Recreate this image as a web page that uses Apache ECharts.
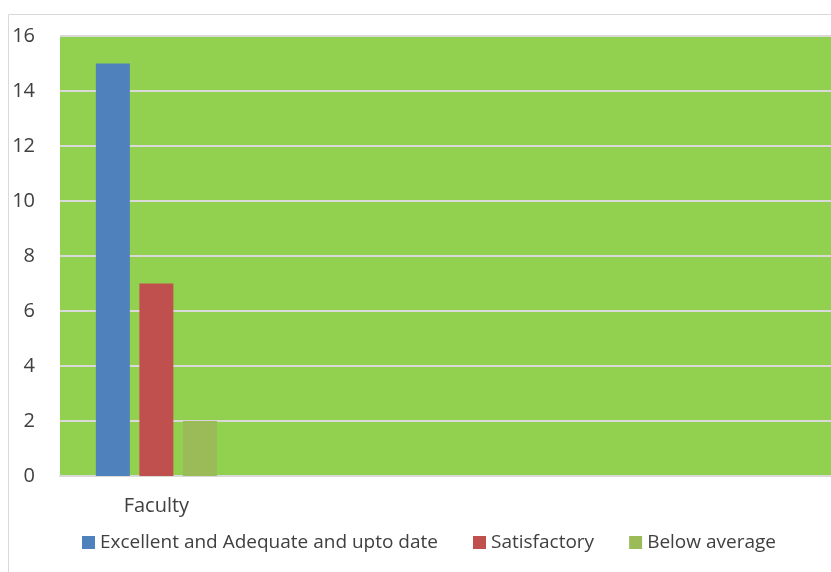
<!DOCTYPE html>
<html><head><meta charset="utf-8">
<script src="https://cdn.jsdelivr.net/npm/echarts@6/dist/echarts.min.js"></script>
<style>html,body{margin:0;padding:0;background:#fff}#c{width:831px;height:572px}</style>
</head><body><div id="c"></div>
<script>
var categories = ['Faculty', '', '', ''];
var seriesNames = ['Excellent and Adequate and upto date', 'Satisfactory', 'Below average'];
var excellent = [15, null, null, null];
var satisfactory = [7, null, null, null];
var belowAverage = [2, null, null, null];
var yTicks = [0, 2, 4, 6, 8, 10, 12, 14, 16];

var colors = ['#4F81BD', '#C0504D', '#9BBB59'];
var font = 'Open Sans';
var chart = echarts.init(document.getElementById('c'));
chart.setOption({
  animation: false,
  textStyle: {fontFamily: font},
  graphic: [{type: 'rect', shape: {x: 8.5, y: 14.5, width: 900, height: 700}, style: {fill: 'none', stroke: '#D9D9D9', lineWidth: 1}, silent: true}],
  grid: {left: 60, top: 36, width: 780, height: 440, backgroundColor: '#92D050', show: true, borderWidth: 0},
  legend: {
    data: seriesNames, bottom: 15, left: 77, itemWidth: 13, itemHeight: 13, itemGap: 35,
    icon: 'rect', textStyle: {fontSize: 19, color: '#404040', fontFamily: font}
  },
  xAxis: {
    type: 'category', data: categories,
    axisLine: {lineStyle: {color: '#D9D9D9', width: 2}},
    axisTick: {show: false},
    axisLabel: {fontSize: 20, color: '#404040', margin: 20, interval: 0}
  },
  yAxis: {
    type: 'value', min: yTicks[0], max: yTicks[yTicks.length - 1], interval: 2,
    axisLine: {show: false}, axisTick: {show: false},
    axisLabel: {fontSize: 20, color: '#404040', margin: 25},
    splitLine: {lineStyle: {color: '#D9D9D9', width: 2}}
  },
  series: [
    {name: seriesNames[0], type: 'bar', data: excellent, barWidth: 34, barGap: '28%', itemStyle: {color: colors[0]}},
    {name: seriesNames[1], type: 'bar', data: satisfactory, barWidth: 34, barGap: '28%', itemStyle: {color: colors[1]}},
    {name: seriesNames[2], type: 'bar', data: belowAverage, barWidth: 34, barGap: '28%', itemStyle: {color: colors[2]}}
  ]
});
</script></body></html>
